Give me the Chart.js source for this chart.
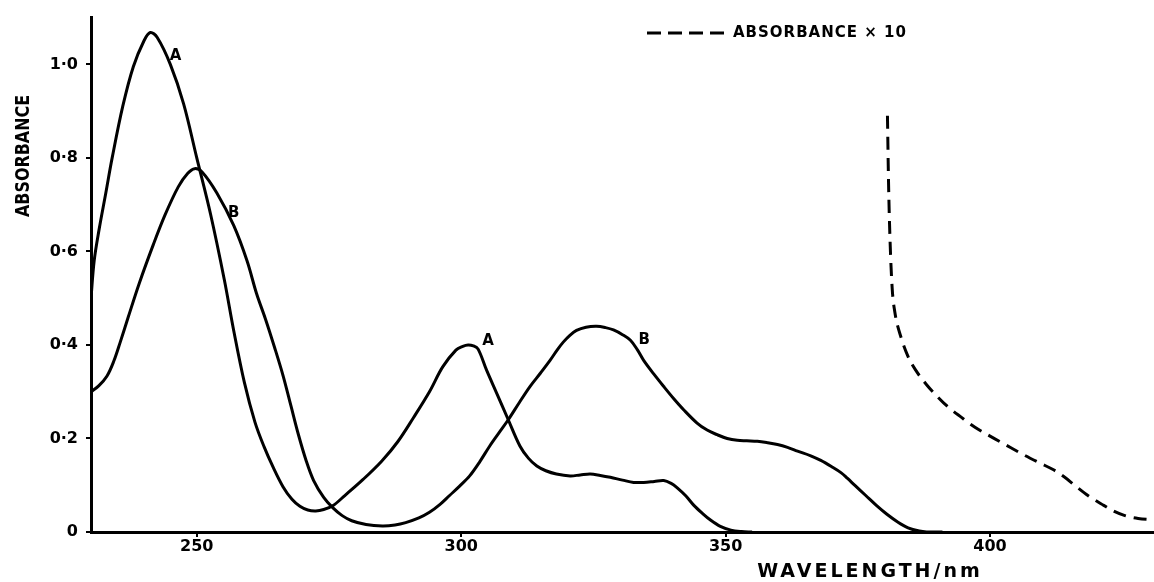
<!DOCTYPE html>
<html>
<head>
<meta charset="utf-8">
<script src="https://cdn.jsdelivr.net/npm/chart.js@4"></script>
<style>
  body { margin: 0; background: #fff; }
  canvas { display: block; }
</style>
</head>
<body>
<canvas id="spectrumChart" width="1154" height="582"></canvas>
<script>
// curve A (solid)
const wavelengthA = [230, 230.6, 231.5, 232.8, 234, 236, 238, 240, 241.2, 242.5, 245, 247.5, 250, 252.6, 255.2, 257, 259, 261, 262.7, 264.5, 266.3, 268, 269.5, 271, 272.5, 274, 275.7, 278, 281.5, 285, 288, 291, 294, 296.5, 299, 300.3, 301.3, 302.3, 303.2, 304.8, 306.7, 308.9, 311.1, 312.7, 314.3, 316, 318, 320.6, 322.5, 324.4, 326.3, 328.2, 330.5, 332.6, 334.5, 336.5, 338.3, 339.7, 340.8, 342.5, 344, 345.6, 347.2, 349, 351, 353, 355];
const absorbanceA = [0.50, 0.58, 0.645, 0.725, 0.80, 0.91, 0.995, 1.05, 1.068, 1.058, 1.0, 0.916, 0.80, 0.68, 0.54, 0.43, 0.32, 0.235, 0.183, 0.137, 0.097, 0.07, 0.055, 0.047, 0.045, 0.048, 0.056, 0.078, 0.113, 0.152, 0.193, 0.245, 0.30, 0.353, 0.389, 0.397, 0.40, 0.398, 0.391, 0.346, 0.297, 0.24, 0.184, 0.158, 0.141, 0.131, 0.124, 0.12, 0.122, 0.124, 0.121, 0.117, 0.111, 0.106, 0.106, 0.108, 0.11, 0.104, 0.095, 0.077, 0.057, 0.04, 0.025, 0.012, 0.004, 0.001, 0.0];

// curve B (solid)
const wavelengthB = [230, 231.5, 233, 234.3, 235.5, 237, 239.1, 241.8, 244, 246.5, 248.3, 249.6, 251, 253.8, 257, 259.5, 261.3, 263, 264.7, 266.3, 267.8, 269.2, 270.7, 272.1, 274, 275.7, 277.5, 279.3, 282, 285.1, 287.5, 289.5, 292, 294, 296, 297.8, 299.7, 301.6, 303.5, 305.4, 307.2, 308.9, 311, 313, 315, 316.8, 318.2, 319.3, 320.5, 321.8, 323.6, 325.6, 327.3, 328.8, 330.5, 332, 333.3, 334.5, 336.4, 338.3, 340.2, 342.1, 344.6, 346.5, 348.4, 350.3, 352.2, 354, 356, 357.9, 359.8, 361.7, 363.6, 366.1, 368, 370, 371.8, 373, 374.5, 376.5, 378.5, 380.5, 382.6, 384.5, 386.6, 388, 391];
const absorbanceB = [0.30, 0.313, 0.333, 0.365, 0.405, 0.458, 0.531, 0.615, 0.678, 0.738, 0.767, 0.777, 0.77, 0.725, 0.655, 0.58, 0.51, 0.455, 0.395, 0.335, 0.27, 0.209, 0.152, 0.11, 0.074, 0.052, 0.035, 0.024, 0.016, 0.013, 0.015, 0.02, 0.03, 0.042, 0.059, 0.078, 0.098, 0.12, 0.15, 0.184, 0.213, 0.24, 0.277, 0.311, 0.34, 0.367, 0.39, 0.406, 0.42, 0.431, 0.438, 0.44, 0.437, 0.432, 0.422, 0.41, 0.39, 0.367, 0.338, 0.311, 0.285, 0.261, 0.233, 0.218, 0.208, 0.2, 0.196, 0.195, 0.194, 0.191, 0.187, 0.181, 0.173, 0.163, 0.153, 0.14, 0.127, 0.115, 0.099, 0.078, 0.057, 0.038, 0.021, 0.009, 0.002, 0.0, 0.0];

// absorbance x 10 (dashed)
const wavelengthX10 = [380.6, 380.8, 381.1, 381.5, 382, 383.2, 384.5, 386, 388, 390, 392, 394.6, 397, 400, 403, 406.7, 409.5, 412, 414, 416, 418.5, 421.5, 423.5, 425.5, 428, 431];
const absorbanceX10 = [0.89, 0.75, 0.62, 0.52, 0.47, 0.415, 0.375, 0.345, 0.315, 0.29, 0.268, 0.245, 0.225, 0.205, 0.186, 0.163, 0.147, 0.133, 0.118, 0.1, 0.078, 0.057, 0.044, 0.035, 0.029, 0.026];

const xTicks = [250, 300, 350, 400];
const yTicks = [0, 0.2, 0.4, 0.6, 0.8, 1.0];
const yTickLabels = ['0', '0·2', '0·4', '0·6', '0·8', '1·0'];

// curve letters placed in data coordinates
const curveLabels = ['A', 'B', 'A', 'B'];
const curveLabelX = [246, 257, 305.1, 334.6];
const curveLabelY = [1.017, 0.682, 0.408, 0.41];

const toPoints = (xs, ys) => xs.map((x, i) => ({ x: x, y: ys[i] }));

const FONT = '"DejaVu Sans", sans-serif';

const annotate = {
  id: 'annotate',
  afterDraw(chart) {
    const ctx = chart.ctx;
    const xScale = chart.scales.x;
    const yScale = chart.scales.y;
    ctx.save();
    ctx.fillStyle = '#000';
    ctx.textBaseline = 'middle';

    // curve letters
    ctx.font = 'bold 15px ' + FONT;
    ctx.textAlign = 'center';
    curveLabels.forEach((text, i) => {
      ctx.fillText(text, xScale.getPixelForValue(curveLabelX[i]), yScale.getPixelForValue(curveLabelY[i]));
    });

    // x axis title
    ctx.font = 'bold 19px ' + FONT;
    ctx.letterSpacing = '3px';
    ctx.textAlign = 'center';
    ctx.fillText('WAVELENGTH/nm', 870, 572);

    // y axis title
    ctx.letterSpacing = '0px';
    ctx.save();
    ctx.translate(24, 156);
    ctx.rotate(-Math.PI / 2);
    ctx.font = 'bold 20px ' + FONT;
    ctx.fillText('ABSORBANCE', 0, 0, 122);
    ctx.restore();

    // legend for the dashed curve
    ctx.strokeStyle = '#000';
    ctx.lineWidth = 3;
    ctx.setLineDash([14, 7]);
    ctx.beginPath();
    ctx.moveTo(647, 33);
    ctx.lineTo(724, 33);
    ctx.stroke();
    ctx.setLineDash([]);
    ctx.font = 'bold 15px ' + FONT;
    ctx.letterSpacing = '1px';
    ctx.textAlign = 'left';
    ctx.fillText('ABSORBANCE × 10', 733, 33);
    ctx.restore();
  }
};

const lineStyle = {
  showLine: true,
  pointRadius: 0,
  borderColor: '#000',
  borderWidth: 3,
  tension: 0.35,
  fill: false
};

const spectrumChart = new Chart(document.getElementById('spectrumChart').getContext('2d'), {
  type: 'scatter',
  data: {
    datasets: [
      Object.assign({ label: 'A', data: toPoints(wavelengthA, absorbanceA) }, lineStyle),
      Object.assign({ label: 'B', data: toPoints(wavelengthB, absorbanceB) }, lineStyle),
      Object.assign({ label: 'ABSORBANCE × 10', data: toPoints(wavelengthX10, absorbanceX10) }, lineStyle,
        { borderDash: [13, 8], cubicInterpolationMode: 'monotone' })
    ]
  },
  options: {
    responsive: false,
    animation: false,
    layout: {
      padding: { top: 13, right: 0, left: 0, bottom: 0 }
    },
    plugins: {
      legend: { display: false },
      tooltip: { enabled: false }
    },
    scales: {
      x: {
        type: 'linear',
        min: 230,
        max: 431,
        afterFit(scale) { scale.height = 50; },
        afterBuildTicks(scale) { scale.ticks = xTicks.map(v => ({ value: v })); },
        border: { display: true, color: '#000', width: 3 },
        grid: { drawOnChartArea: false, drawTicks: true, tickLength: 5, color: '#000', lineWidth: 2 },
        ticks: {
          color: '#000',
          font: { family: FONT, size: 16, weight: 'bold' },
          padding: 0,
          maxRotation: 0,
          callback: v => String(v)
        }
      },
      y: {
        min: 0,
        max: 1.1,
        afterFit(scale) { scale.width = 91; },
        afterBuildTicks(scale) { scale.ticks = yTicks.map(v => ({ value: v })); },
        border: { display: true, color: '#000', width: 3 },
        grid: { drawOnChartArea: false, drawTicks: true, tickLength: 5, color: '#000', lineWidth: 2 },
        ticks: {
          color: '#000',
          font: { family: FONT, size: 16, weight: 'bold' },
          padding: 8,
          callback: v => yTickLabels[yTicks.indexOf(Math.round(v * 10) / 10)]
        }
      }
    }
  },
  plugins: [annotate]
});
</script>
</body>
</html>
